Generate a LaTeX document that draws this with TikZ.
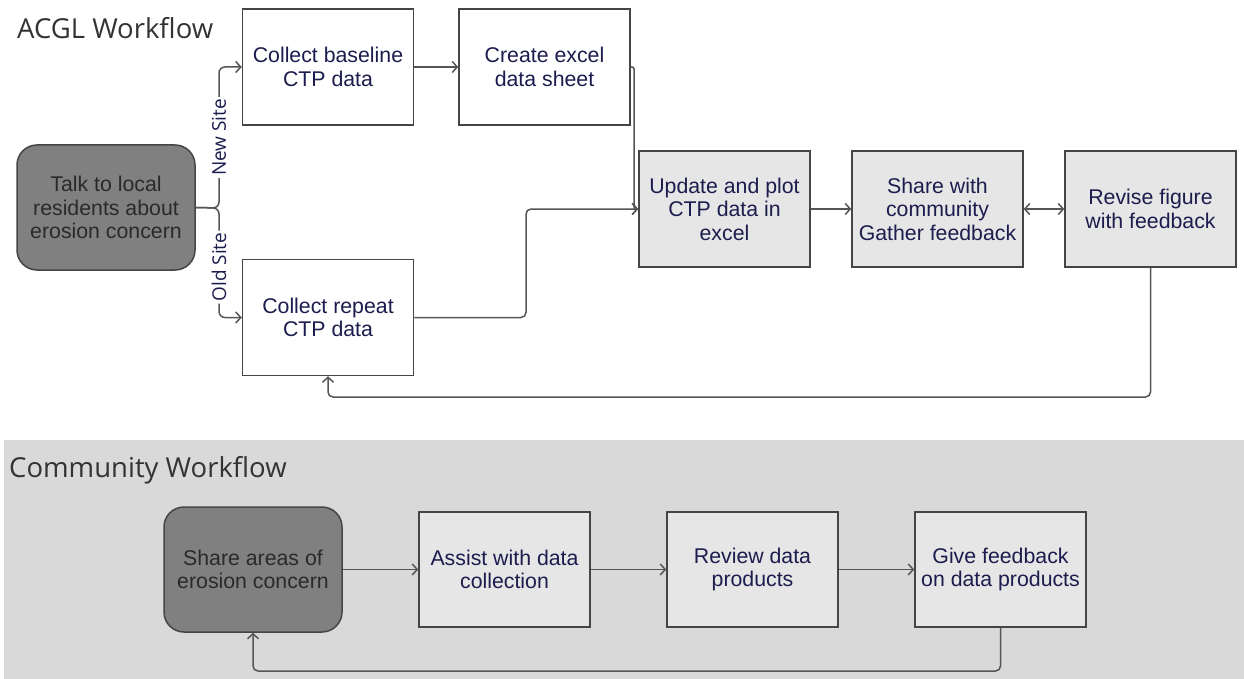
\documentclass[tikz,border=0pt]{standalone}
\usepackage{fontspec}
\setmainfont{Liberation Sans}
\newfontfamily\titlefont{Open Sans}
\usetikzlibrary{arrows.meta}
\definecolor{navy}{HTML}{1C1C4E}
\definecolor{edgec}{HTML}{454545}
\definecolor{linec}{HTML}{555555}
\definecolor{darkfill}{HTML}{808080}
\definecolor{lightfill}{HTML}{E6E6E6}
\definecolor{bgc}{HTML}{D9D9D9}
\definecolor{titlec}{HTML}{333333}
\definecolor{darktext}{HTML}{2A2A2A}
\begin{document}
\begin{tikzpicture}[x=1pt,y=-1pt,
  >={Straight Barb[length=5pt,width=11pt]},
  box/.style={draw=edgec, line width=1.5pt, minimum width=171pt, minimum height=116pt,
    align=center, text=navy, font=\fontsize{21.3}{23.5}\selectfont, inner sep=2pt},
  whitebox/.style={box, fill=white},
  greybox/.style={box, fill=lightfill},
  startbox/.style={box, fill=darkfill, text=darktext, rounded corners=20pt,
    minimum width=178pt, minimum height=125pt},
  arr/.style={->, draw=linec, line width=1.5pt},
  dblarr/.style={<->, draw=linec, line width=1.5pt},
  sitelabel/.style={fill=white, text=navy, rotate=90, inner sep=2pt,
    font=\titlefont\fontsize{19}{20}\selectfont},
  title/.style={anchor=base west, text=titlec, inner sep=0pt,
    font=\titlefont\fontsize{27.5}{30}\selectfont}
]
\useasboundingbox (0,0) rectangle (1244,679);
\fill[white] (0,0) rectangle (1244,679);
\fill[bgc] (4,440) rectangle (1244,679);

% titles
\node[title] (t1) at (17,39) {ACGL Workflow};
\node[title] (t2) at (9,477) {Community Workflow};

% ACGL workflow
\node[startbox] (talk) at (106,207.5) {Talk to local\\residents about\\erosion concern};
\node[whitebox] (base) at (328,67) {Collect baseline\\CTP data};
\node[whitebox] (excel) at (544.5,67) {Create excel\\data sheet};
\node[whitebox] (rep) at (328,317.5) {Collect repeat\\CTP data};
\node[greybox] (upd) at (724.5,209) {Update and plot\\CTP data in\\excel};
\node[greybox] (share) at (937.5,209) {Share with\\community\\Gather feedback};
\node[greybox] (rev) at (1150.5,209) {Revise figure\\with feedback};

\coordinate (split) at (219,208);
\draw[arr, rounded corners=6pt] (talk.east) -- (split) |- (base.west)
  node[sitelabel, pos=0.25] (ns) {New Site};
\draw[arr, rounded corners=6pt] (talk.east) -- (split) |- (rep.west)
  node[sitelabel, pos=0.27] (os) {Old Site};

\draw[arr] (base.east) -- (excel.west);
\coordinate (ex1) at (634,67);
\draw[arr, rounded corners=2pt] (excel.east) -- (ex1) |- (upd.west);
\coordinate (rp1) at (526,317.5);
\draw[arr, rounded corners=5pt] (rep.east) -- (rp1) |- (upd.west);
\draw[arr] (upd.east) -- (share.west);
\draw[dblarr] (share.east) -- (rev.west);
\coordinate (lb1) at (328,397);
\draw[arr, rounded corners=5pt] (rev.south) |- (lb1) -- (rep.south);

% Community workflow
\node[startbox] (sharea) at (253,569.5) {Share areas of\\erosion concern};
\node[greybox, minimum height=115pt] (assist) at (504.5,569.5) {Assist with data\\collection};
\node[greybox, minimum height=115pt] (review) at (752.5,569.5) {Review data\\products};
\node[greybox, minimum height=115pt] (give) at (1000.5,569.5) {Give feedback\\on data products};

\draw[arr] (sharea.east) -- (assist.west);
\draw[arr] (assist.east) -- (review.west);
\draw[arr] (review.east) -- (give.west);
\coordinate (lb2) at (253,671);
\draw[arr, rounded corners=5pt] (give.south) |- (lb2) -- (sharea.south);
\end{tikzpicture}
\end{document}
